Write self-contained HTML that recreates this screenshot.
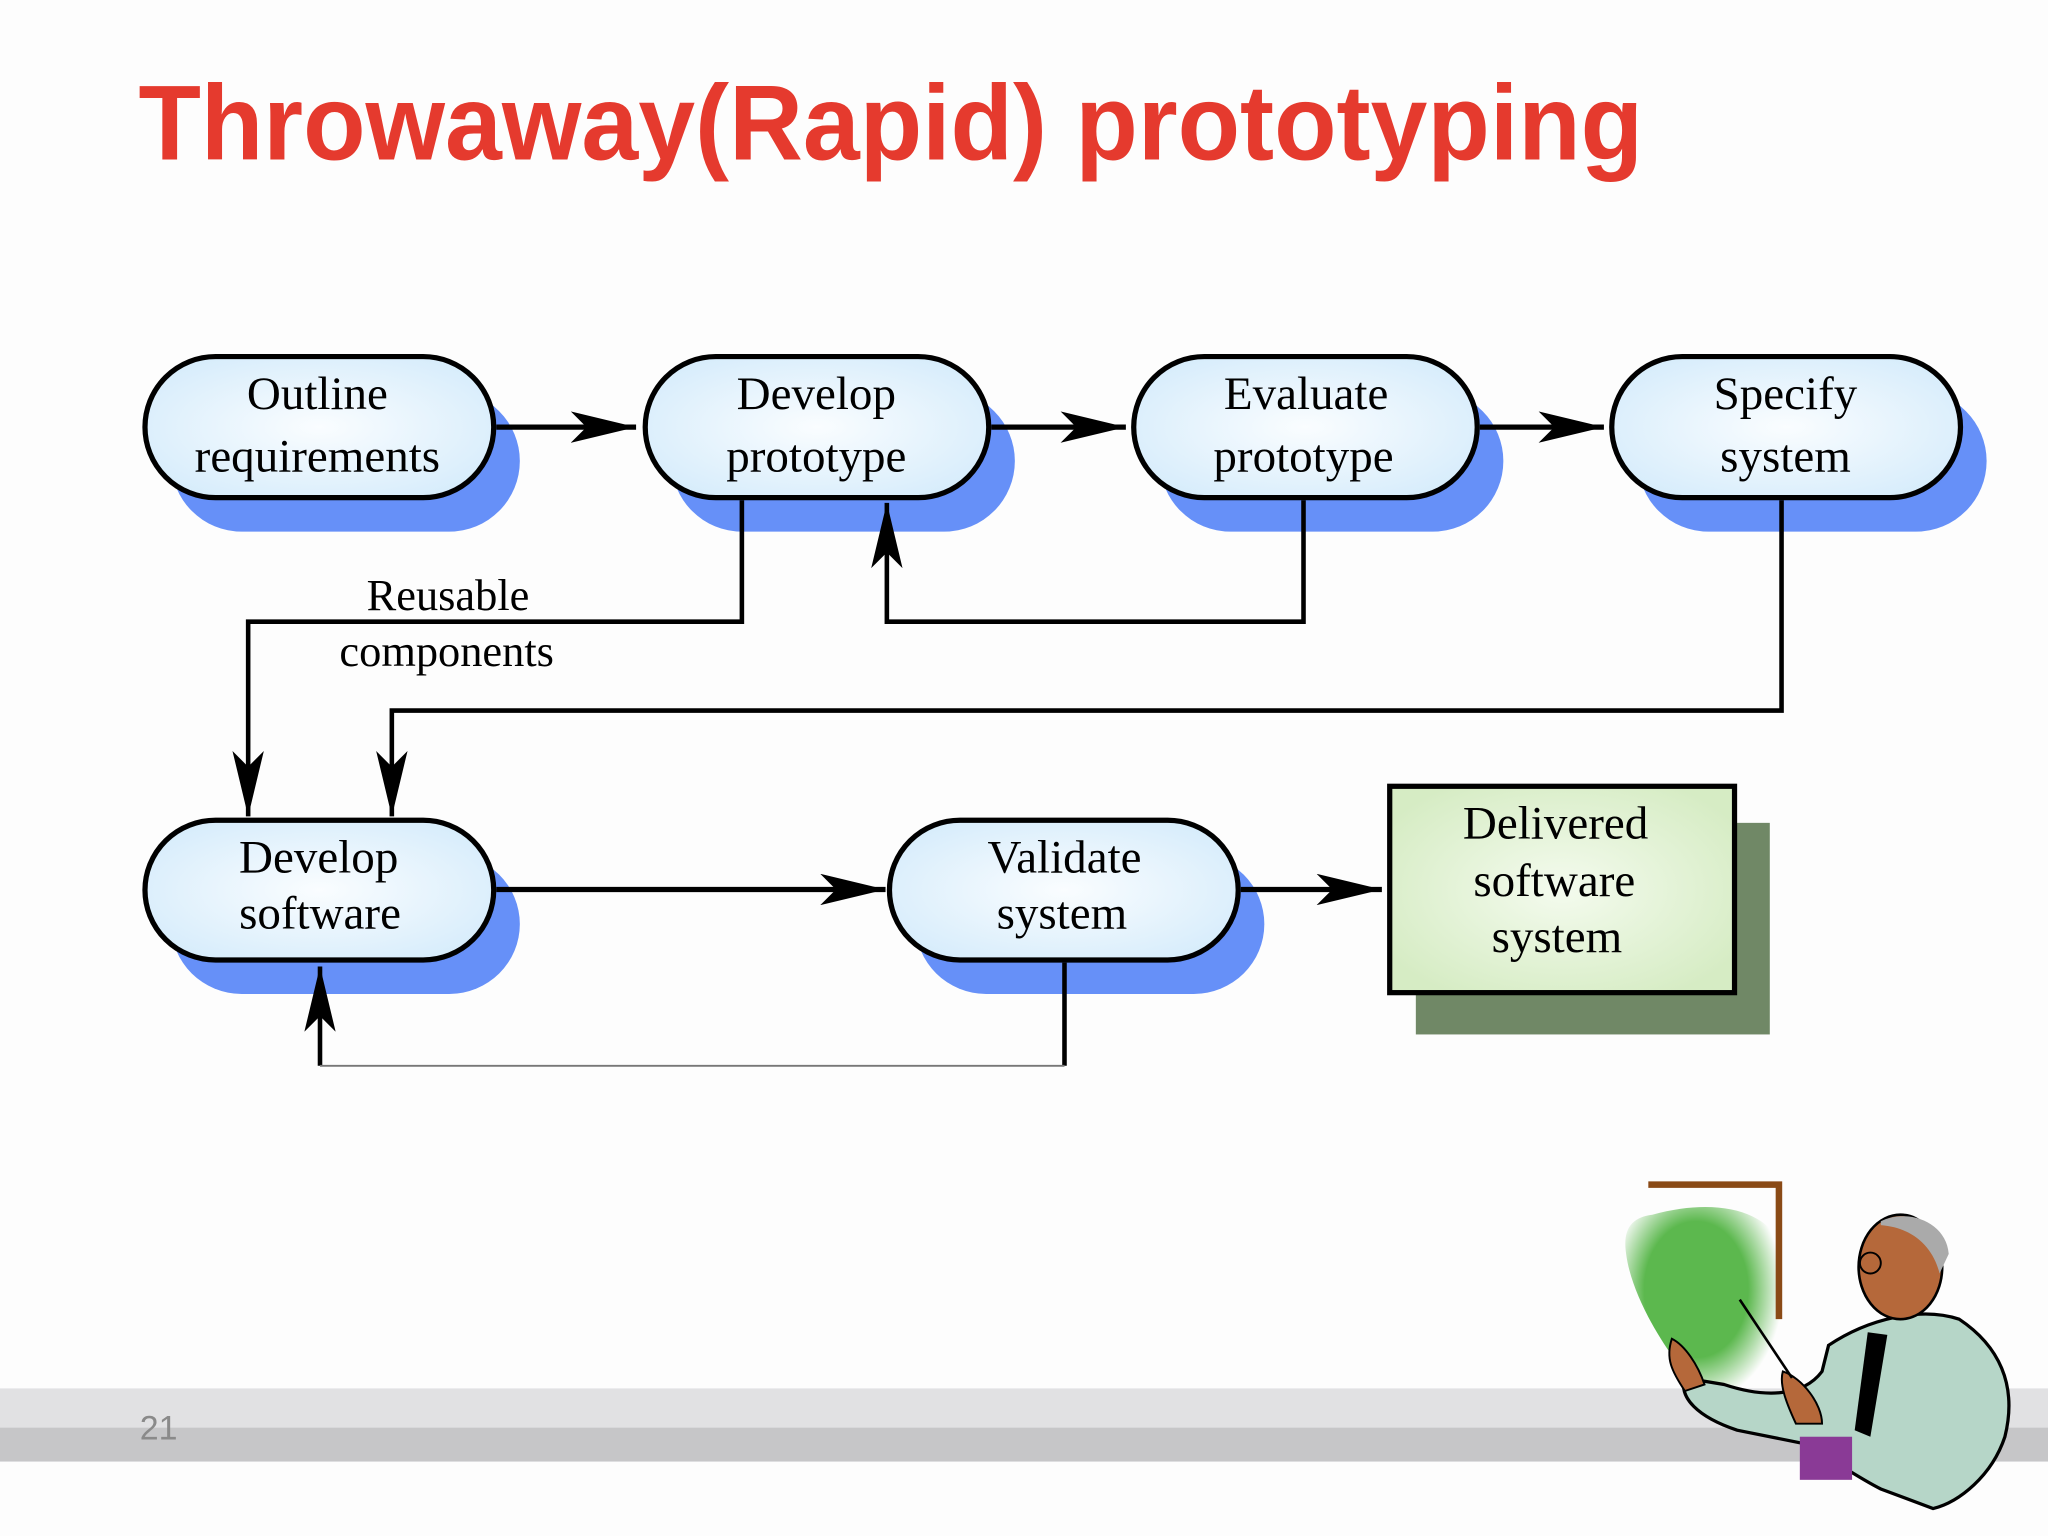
<!DOCTYPE html>
<html><head><meta charset="utf-8"><style>
html,body{margin:0;padding:0;background:#fdfdfd;width:2048px;height:1536px;overflow:hidden}
svg{display:block}
.n{font-family:"Liberation Serif",serif;font-size:36px;fill:#000;text-anchor:middle}
</style></head><body>
<svg width="2048" height="1536" viewBox="0 0 1568 1176" preserveAspectRatio="none">
<defs>
<radialGradient id="bg" cx="50%" cy="50%" r="60%"><stop offset="0" stop-color="#fafdff"/><stop offset="1" stop-color="#d6ecfb"/></radialGradient>
<radialGradient id="gg" cx="50%" cy="50%" r="60%"><stop offset="0" stop-color="#f4fbee"/><stop offset="1" stop-color="#d6ecc4"/></radialGradient>
<marker id="a" viewBox="0 0 50 24" refX="50" refY="12" markerWidth="50" markerHeight="24" markerUnits="userSpaceOnUse" orient="auto"><path d="M0,0 L50,12 L0,24 L12,12 Z" fill="#000"/></marker>
<radialGradient id="gr" cx="45%" cy="40%" r="55%"><stop offset="0.6" stop-color="#5cb84e"/><stop offset="1" stop-color="#5cb84e" stop-opacity="0"/></radialGradient>
</defs>
<rect x="0" y="0" width="1568" height="1176" fill="#fdfdfd"/>
<rect x="0" y="1063" width="1568" height="30" fill="#e1e1e3"/>
<rect x="0" y="1093" width="1568" height="26" fill="#c6c6c8"/>
<text x="107" y="1102" font-family="Liberation Sans,sans-serif" font-size="26" fill="#8a8a8a">21</text>
<text x="106" y="122" font-family="Liberation Sans,sans-serif" font-weight="bold" font-size="82" fill="#e53a2e" textLength="1152" lengthAdjust="spacingAndGlyphs">Throwaway(Rapid) prototyping</text>

<g fill="#6690f8">
<rect x="131" y="299" width="267" height="108" rx="54"/>
<rect x="514" y="299" width="263" height="108" rx="54"/>
<rect x="888" y="299" width="263" height="108" rx="54"/>
<rect x="1254" y="299" width="267" height="108" rx="54"/>
<rect x="131" y="654" width="267" height="107" rx="54"/>
<rect x="701" y="654" width="267" height="107" rx="54"/>
</g>
<rect x="1084" y="630" width="271" height="162" fill="#708866"/>
<g fill="url(#bg)" stroke="#000" stroke-width="4">
<rect x="111" y="273" width="267" height="108" rx="54"/>
<rect x="494" y="273" width="263" height="108" rx="54"/>
<rect x="868" y="273" width="263" height="108" rx="54"/>
<rect x="1234" y="273" width="267" height="108" rx="54"/>
<rect x="111" y="628" width="267" height="107" rx="54"/>
<rect x="681" y="628" width="267" height="107" rx="54"/>
</g>
<rect x="1064" y="602" width="264" height="158" fill="url(#gg)" stroke="#000" stroke-width="4"/>

<g stroke="#000" stroke-width="4" fill="none">
<line x1="380" y1="327" x2="487" y2="327" marker-end="url(#a)"/>
<line x1="759" y1="327" x2="862" y2="327" marker-end="url(#a)"/>
<line x1="1133" y1="327" x2="1228" y2="327" marker-end="url(#a)"/>
<line x1="380" y1="681" x2="678" y2="681" marker-end="url(#a)"/>
<line x1="950" y1="681" x2="1058" y2="681" marker-end="url(#a)"/>
<g stroke-width="3.5">
<polyline points="568,383 568,476 190,476 190,625" marker-end="url(#a)"/>
<polyline points="998,383 998,476 679,476 679,385" marker-end="url(#a)"/>
<polyline points="1364,383 1364,544 300,544 300,625" marker-end="url(#a)"/>
<line x1="815" y1="737" x2="815" y2="816"/>
<line x1="245" y1="816" x2="245" y2="740" marker-end="url(#a)"/>
</g>
<line x1="245" y1="816" x2="815" y2="816" stroke="#777" stroke-width="1.5"/>
</g>

<g class="n">
<text x="243" y="313" class="n">Outline</text><text x="243" y="361" class="n">requirements</text>
<text x="625" y="313" class="n">Develop</text><text x="625" y="361" class="n">prototype</text>
<text x="1000" y="313" class="n">Evaluate</text><text x="998" y="361" class="n">prototype</text>
<text x="1367" y="313" class="n">Specify</text><text x="1367" y="361" class="n">system</text>
<text x="244" y="668" class="n">Develop</text><text x="245" y="711" class="n">software</text>
<text x="815" y="668" class="n">Validate</text><text x="813" y="711" class="n">system</text>
<text x="1191" y="642" class="n">Delivered</text><text x="1190" y="686" class="n">software</text><text x="1192" y="729" class="n">system</text>
<text x="343" y="467" class="n" style="font-size:34px">Reusable</text><text x="342" y="510" class="n" style="font-size:34px">components</text>
</g>

<!-- clip art -->
<path d="M1265,930 C1320,915 1360,930 1365,960 L1365,1010 C1360,1060 1350,1090 1320,1080 C1290,1060 1250,1000 1245,960 C1242,940 1250,932 1265,930Z" fill="url(#gr)"/>
<path d="M1262,907 L1362,907 L1362,1010" stroke="#8a4a16" stroke-width="5" fill="none"/>
<path d="M1400,1030 C1430,1010 1470,1000 1500,1010 C1530,1030 1545,1060 1535,1100 C1525,1130 1500,1150 1480,1155 L1440,1140 C1420,1130 1400,1115 1380,1105 L1330,1095 C1300,1085 1285,1070 1290,1055 L1320,1060 C1350,1070 1380,1070 1395,1050Z" fill="#b6d6c8" stroke="#000" stroke-width="2.5"/>
<rect x="1378" y="1100" width="40" height="33" fill="#8a3a96"/>
<path d="M1430,1020 L1420,1095 L1432,1100 L1445,1022Z" fill="#000"/>
<ellipse cx="1455" cy="970" rx="32" ry="40" fill="#b5683a" stroke="#000" stroke-width="2"/>
<path d="M1440,935 C1460,925 1490,935 1492,960 L1485,975 C1480,955 1465,940 1440,938Z" fill="#aaa"/>
<circle cx="1432" cy="967" r="8" fill="none" stroke="#000" stroke-width="1.5"/>
<path d="M1280,1025 C1290,1030 1300,1045 1305,1060 L1290,1065 C1280,1050 1275,1040 1280,1025Z" fill="#b5683a" stroke="#000" stroke-width="1.5"/>
<path d="M1365,1050 C1380,1055 1395,1075 1395,1090 L1375,1090 C1368,1075 1362,1060 1365,1050Z" fill="#b5683a" stroke="#000" stroke-width="1.5"/>
<line x1="1332" y1="995" x2="1372" y2="1055" stroke="#000" stroke-width="2"/>
</svg>
</body></html>
